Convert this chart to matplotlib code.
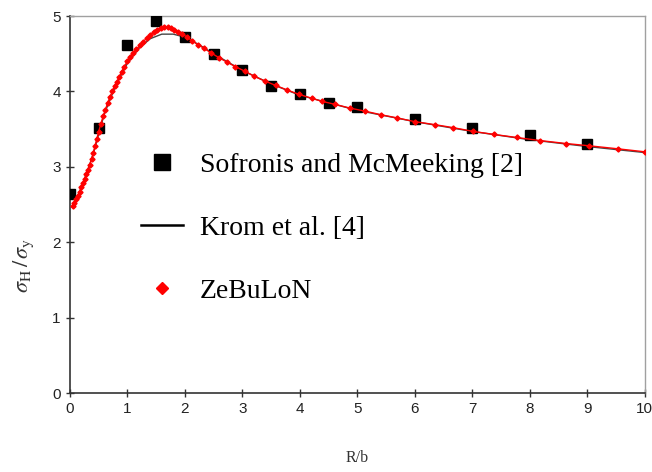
import matplotlib
matplotlib.use('Agg')
import matplotlib.pyplot as plt
from matplotlib.lines import Line2D

# ── data ──────────────────────────────────────────────────────────────────────
sofronis_x = [0.0, 0.5, 1.0, 1.5, 2.0, 2.5, 3.0, 3.5, 4.0, 4.5, 5.0, 6.0, 7.0, 8.0, 9.0]
sofronis_y = [2.64, 3.51, 4.61, 4.93, 4.72, 4.50, 4.29, 4.07, 3.96, 3.85, 3.80,
              3.64, 3.52, 3.42, 3.30]

krom_x = [0.05, 0.2, 0.4, 0.6, 0.8, 1.0, 1.2, 1.4, 1.6, 1.8, 2.0, 2.25, 2.5,
          3.0, 3.5, 4.0, 5.0, 6.0, 7.0, 8.0, 9.0, 10.0]
krom_y = [2.47, 2.72, 3.15, 3.70, 4.08, 4.37, 4.57, 4.70, 4.76, 4.76, 4.72,
          4.62, 4.50, 4.28, 4.10, 3.95, 3.75, 3.60, 3.47, 3.36, 3.27, 3.19]

zeb_x = [0.05, 0.08, 0.11, 0.14, 0.17, 0.20, 0.23, 0.26, 0.29, 0.32, 0.35, 0.38,
         0.41, 0.44, 0.47, 0.50, 0.54, 0.58, 0.62, 0.66, 0.70, 0.74, 0.78, 0.82,
         0.86, 0.90, 0.95, 1.00, 1.05, 1.10, 1.16, 1.22, 1.28, 1.34, 1.40, 1.46,
         1.52, 1.58, 1.64, 1.70, 1.76, 1.82, 1.89, 1.96, 2.04, 2.13, 2.23, 2.34,
         2.46, 2.59, 2.73, 2.88, 3.04, 3.21, 3.39, 3.58, 3.78, 3.99, 4.21, 4.38,
         4.61, 4.87, 5.13, 5.42, 5.69, 6.00, 6.35, 6.67, 7.02, 7.38, 7.77, 8.17,
         8.63, 9.03, 9.53, 10.0]
zeb_y = [2.48, 2.52, 2.57, 2.62, 2.67, 2.73, 2.78, 2.84, 2.90, 2.96, 3.03, 3.11,
         3.19, 3.28, 3.37, 3.46, 3.57, 3.67, 3.76, 3.85, 3.93, 4.00, 4.07, 4.13,
         4.19, 4.26, 4.33, 4.40, 4.46, 4.51, 4.56, 4.61, 4.66, 4.71, 4.75, 4.79,
         4.82, 4.84, 4.85, 4.85, 4.84, 4.82, 4.79, 4.76, 4.72, 4.67, 4.62, 4.57,
         4.51, 4.45, 4.39, 4.33, 4.27, 4.20, 4.14, 4.08, 4.02, 3.96, 3.91, 3.87,
         3.83, 3.78, 3.74, 3.69, 3.65, 3.60, 3.56, 3.52, 3.47, 3.43, 3.39, 3.35,
         3.31, 3.28, 3.24, 3.20]

x_ticks = list(range(0, 11))
y_ticks = [0, 1, 2, 3, 4, 5]

labels = ['Sofronis and McMeeking [2]', 'Krom et al. [4]', 'ZeBuLoN']
# ─────────────────────────────────────────────────────────────────────────────

plt.rcParams['mathtext.fontset'] = 'stix'

fig = plt.figure(figsize=(6.52, 4.72), dpi=100)
fig.patch.set_facecolor('white')
ax = fig.add_axes([0.107, 0.167, 0.882, 0.799])

ax.plot(krom_x, krom_y, color='#444444', linewidth=1.0, zorder=2)
ax.plot(sofronis_x, sofronis_y, linestyle='none', marker='s', markersize=7.5,
        color='black', zorder=3)
ax.plot(zeb_x, zeb_y, color='#ff0000', linewidth=1.0, marker='D',
        markersize=2.6, zorder=4)

ax.set_xlim(0, 10)
ax.set_ylim(0, 5)
ax.set_xticks(x_ticks)
ax.set_yticks(y_ticks)
ax.tick_params(direction='inout', length=6, width=1, colors='#333333',
               labelsize=11, labelcolor='#222222')
for lab in ax.get_xticklabels() + ax.get_yticklabels():
    lab.set_fontfamily('Liberation Sans')

for side in ['left', 'bottom']:
    ax.spines[side].set_color('#333333')
    ax.spines[side].set_linewidth(1.2)
for side in ['top', 'right']:
    ax.spines[side].set_color('#a0a0a0')
    ax.spines[side].set_linewidth(1.0)

ax.set_xlabel('R/b', fontsize=11.5, fontfamily='Liberation Serif', color='#333333')
ax.xaxis.set_label_coords(0.5, -0.15)
ax.set_ylabel(r'$\sigma_{\rm H}\,/\,\sigma_{\rm y}$', fontsize=16, color='#333333')
ax.yaxis.set_label_coords(-0.058, 0.34)

handles = [
    Line2D([], [], linestyle='none', marker='s', markersize=11.5, color='black'),
    Line2D([], [], color='black', linewidth=1.8),
    Line2D([], [], linestyle='none', marker='D', markersize=6, color='#ff0000'),
]
ax.legend(handles, labels, loc='upper left', bbox_to_anchor=(0.105, 0.668),
          frameon=False, prop={'family': 'Liberation Serif', 'size': 20},
          handlelength=1.5, handletextpad=0.6, labelspacing=1.35,
          borderaxespad=0)

plt.savefig('out.png', dpi=100, facecolor='white')
